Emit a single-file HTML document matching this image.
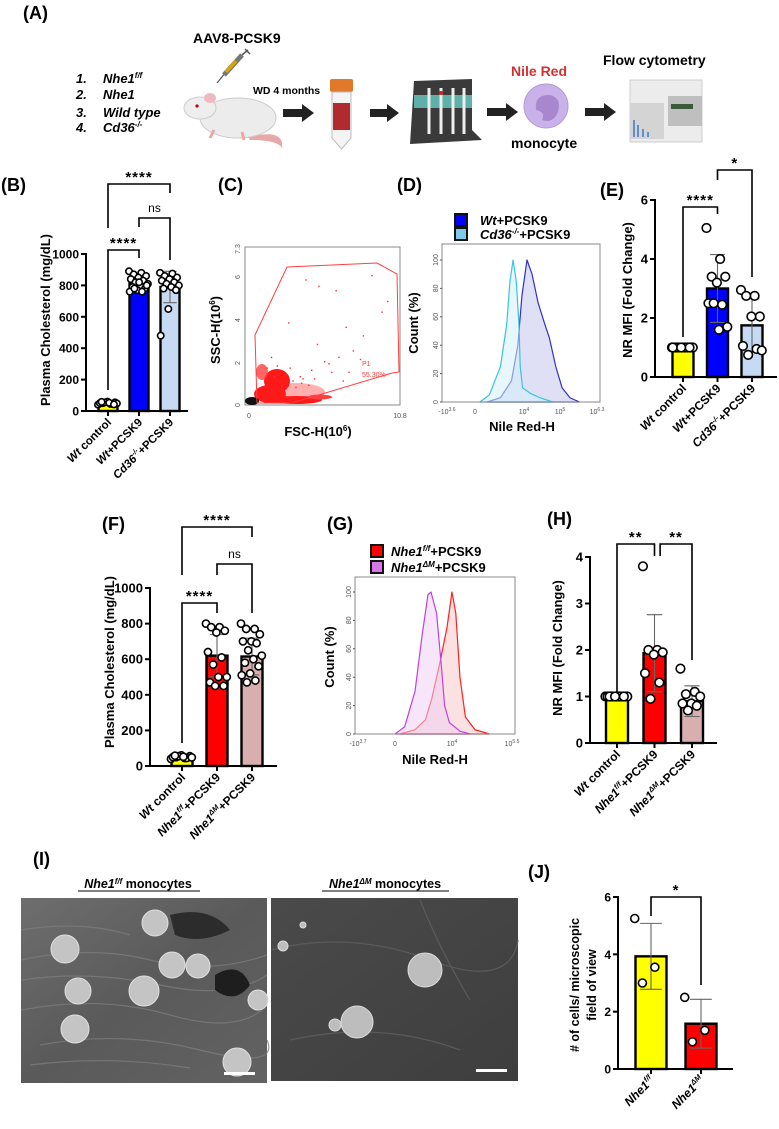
<!DOCTYPE html>
<html><head><meta charset="utf-8"><title>Figure</title>
<style>
html,body{margin:0;padding:0;background:#fff;}
svg{display:block;font-family:"Liberation Sans",Arial,sans-serif;}
.b{font-weight:bold;}
</style></head>
<body>
<svg id="fig" xmlns="http://www.w3.org/2000/svg" width="779" height="1129" viewBox="0 0 779 1129">
<rect width="779" height="1129" fill="#fff"/>
<!-- ===== Panel A ===== -->
<g>
  <text x="23" y="19" class="b" font-size="18">(A)</text>
  <text x="193" y="43" class="b" font-size="14">AAV8-PCSK9</text>
  <g>
    <line x1="217" y1="83" x2="226" y2="72" stroke="#555" stroke-width="1.2"/>
    <line x1="224" y1="75" x2="242" y2="55" stroke="#777" stroke-width="5"/>
    <line x1="226" y1="72" x2="236" y2="61" stroke="#d9a400" stroke-width="3.5"/>
    <line x1="242" y1="55" x2="248" y2="50" stroke="#555" stroke-width="1.5"/>
    <line x1="245" y1="49" x2="250" y2="54" stroke="#555" stroke-width="1.5"/>
  </g>
  <g class="b" font-size="13" font-style="italic">
    <text x="76" y="83">1.</text><text x="103" y="83">Nhe1<tspan dy="-5" font-size="8">f/f</tspan></text>
    <text x="76" y="99">2.</text><text x="103" y="99">Nhe1</text>
    <text x="76" y="117">3.</text><text x="103" y="117">Wild type</text>
    <text x="76" y="132">4.</text><text x="103" y="132">Cd36<tspan dy="-5" font-size="8">-/-</tspan></text>
  </g>
  <g>
    <path d="M248 137 Q285 128 282 148 Q278 140 250 140 Z" fill="#e8a8a8"/>
    <ellipse cx="238" cy="118" rx="38" ry="20" fill="#ececec" stroke="#ccc"/>
    <ellipse cx="200" cy="108" rx="16" ry="11" fill="#eee" stroke="#ccc"/>
    <ellipse cx="210" cy="98" rx="6" ry="5" fill="#f0b8c0"/>
    <circle cx="197" cy="106" r="1.6" fill="#c00"/>
    <path d="M214 130 l-4 8 M242 132 l2 8" stroke="#e8a8a8" stroke-width="3"/>
  </g>
  <text x="253" y="94" class="b" font-size="10.5">WD 4 months</text>
  <g><rect x="283" y="109" width="20" height="8" fill="#222"/><polygon points="302,104 314,113 302,122" fill="#222"/></g>
  <g>
    <rect x="330" y="79" width="23" height="13" rx="2" fill="#e07a2a"/>
    <path d="M332 92 L351 92 L351 138 L341.5 149 L332 138 Z" fill="#f4f4f4" stroke="#bbb"/>
    <rect x="333" y="103" width="17" height="27" fill="#b02a30"/>
  </g>
  <g><rect x="370" y="109" width="18" height="8" fill="#222"/><polygon points="387,104 399,113 387,122" fill="#222"/></g>
  <g>
    <polygon points="414,81 472,79 472,130 482,140 410,144" fill="#3a3a3a"/>
    <rect x="414" y="95" width="58" height="13" fill="#5fb0a8"/>
    <g stroke="#eee" stroke-width="3"><line x1="429" y1="88" x2="429" y2="134"/><line x1="441" y1="88" x2="441" y2="134"/><line x1="453" y1="88" x2="453" y2="134"/><line x1="464" y1="88" x2="464" y2="134"/></g>
    <circle cx="441" cy="93" r="2" fill="#d02020"/>
  </g>
  <g><rect x="487" y="108" width="20" height="8" fill="#222"/><polygon points="506,103 518,112 506,121" fill="#222"/></g>
  <text x="511" y="76" class="b" font-size="14" fill="#d03232">Nile Red</text>
  <g>
    <circle cx="546" cy="106" r="22" fill="#c9b2ea" stroke="#b49ad8"/>
    <path d="M536 110 Q534 94 550 95 Q562 98 558 112 Q553 124 542 120 Q546 112 536 110Z" fill="#a887cf"/>
  </g>
  <text x="511" y="148" class="b" font-size="14">monocyte</text>
  <g><rect x="585" y="108" width="20" height="8" fill="#222"/><polygon points="604,103 616,112 604,121" fill="#222"/></g>
  <text x="603" y="65" class="b" font-size="14">Flow cytometry</text>
  <g>
    <rect x="630" y="80" width="72" height="62" fill="#ececec" stroke="#ccc"/>
    <rect x="630" y="103" width="34" height="36" fill="#d4d4d4"/>
    <rect x="668" y="96" width="34" height="30" fill="#bfbfbf"/>
    <rect x="671" y="104" width="22" height="5" fill="#3a5a3a"/>
    <g stroke="#3a7ad0" stroke-width="1.5"><line x1="634" y1="120" x2="634" y2="137"/><line x1="638" y1="125" x2="638" y2="137"/><line x1="643" y1="129" x2="643" y2="137"/><line x1="648" y1="132" x2="648" y2="137"/></g>
  </g>
</g>

<!-- Panel labels -->
<g class="b" font-size="18">
  <text x="1" y="191">(B)</text>
  <text x="218" y="191">(C)</text>
  <text x="397" y="191">(D)</text>
  <text x="600" y="196">(E)</text>
  <text x="102" y="530">(F)</text>
  <text x="327" y="530">(G)</text>
  <text x="547" y="525">(H)</text>
  <text x="33" y="865">(I)</text>
  <text x="528" y="878">(J)</text>
</g>

<!-- Panel C static -->
<g>
  <rect x="245" y="247" width="155" height="158" fill="none" stroke="#888" stroke-width="1"/>
  <g font-size="7" fill="#555">
    <text transform="translate(240,249) rotate(-90)" text-anchor="middle">7.3</text>
    <text transform="translate(240,277) rotate(-90)" text-anchor="middle">6</text>
    <text transform="translate(240,320) rotate(-90)" text-anchor="middle">4</text>
    <text transform="translate(240,363) rotate(-90)" text-anchor="middle">2</text>
    <text transform="translate(240,405) rotate(-90)" text-anchor="middle">0</text>
    <text x="400" y="418" text-anchor="middle">10.8</text>
    <text x="249" y="418" text-anchor="middle">0</text>
  </g>
  <g>
    <ellipse cx="295" cy="392" rx="30" ry="9" fill="#ff6060" opacity="0.5"/>
    <ellipse cx="277" cy="381" rx="13" ry="12" fill="#ff1a1a"/>
    <ellipse cx="270" cy="394" rx="16" ry="9" fill="#ff1a1a"/>
    <ellipse cx="296" cy="400" rx="26" ry="4" fill="#ff1a1a"/>
    <ellipse cx="320" cy="397" rx="12" ry="2.5" fill="#ff4040"/>
    <ellipse cx="262" cy="372" rx="6" ry="8" fill="#ff4040" opacity="0.8"/>
    <ellipse cx="252" cy="401" rx="7" ry="4" fill="#111"/>
  </g>
  <g id="cDots"></g>
  <polygon points="287,267 377,263 397,274 399,372 392,373 292,403 257,403 255,335" fill="none" stroke="#ff4040" stroke-width="1"/>
  <text x="362" y="366" font-size="7" fill="#ff4040">P1</text>
  <text x="362" y="377" font-size="7" fill="#ff4040">55.30%</text>
  <text x="318" y="436" class="b" font-size="13" text-anchor="middle">FSC-H(10<tspan dy="-5" font-size="8">6</tspan><tspan dy="5">)</tspan></text>
  <text transform="translate(220,330) rotate(-90)" class="b" font-size="13" text-anchor="middle">SSC-H(10<tspan dy="-5" font-size="8">6</tspan><tspan dy="5">)</tspan></text>
</g>

<!-- Panel D -->
<g>
  <rect x="455" y="214" width="12" height="12" fill="#0000ff" stroke="#111" stroke-width="2"/>
  <rect x="455" y="228" width="12" height="12" fill="#7ecbe9" stroke="#111" stroke-width="2"/>
  <text x="480" y="225" class="b" font-size="13"><tspan font-style="italic">Wt</tspan>+PCSK9</text>
  <text x="480" y="239" class="b" font-size="13"><tspan font-style="italic">Cd36</tspan><tspan dy="-5" font-size="8" font-style="italic">-/-</tspan><tspan dy="5">+PCSK9</tspan></text>
  <g id="dHist"></g>
  <rect x="442" y="244" width="158" height="158" fill="none" stroke="#888"/>
  <g font-size="7" fill="#555">
    <text x="447" y="414" text-anchor="middle">-10<tspan dy="-3" font-size="5">3.6</tspan></text>
    <text x="475" y="414" text-anchor="middle">0</text>
    <text x="524" y="414" text-anchor="middle">10<tspan dy="-3" font-size="5">4</tspan></text>
    <text x="560" y="414" text-anchor="middle">10<tspan dy="-3" font-size="5">5</tspan></text>
    <text x="597" y="414" text-anchor="middle">10<tspan dy="-3" font-size="5">6.3</tspan></text>
  </g>
  <g id="dYTicks" font-size="7" fill="#555"></g>
  <text x="522" y="431" class="b" font-size="13" text-anchor="middle">Nile Red-H</text>
  <text transform="translate(418,323) rotate(-90)" class="b" font-size="13" text-anchor="middle">Count (%)</text>
</g>

<!-- Panel G -->
<g>
  <rect x="371" y="545" width="12" height="12" fill="#ff0000" stroke="#111" stroke-width="2"/>
  <rect x="371" y="561" width="12" height="12" fill="#d577e6" stroke="#111" stroke-width="2"/>
  <text x="391" y="556" class="b" font-size="13"><tspan font-style="italic">Nhe1</tspan><tspan dy="-5" font-size="8" font-style="italic">f/f</tspan><tspan dy="5">+PCSK9</tspan></text>
  <text x="391" y="572" class="b" font-size="13"><tspan font-style="italic">Nhe1</tspan><tspan dy="-5" font-size="8" font-style="italic">ΔM</tspan><tspan dy="5">+PCSK9</tspan></text>
  <g id="gHist"></g>
  <rect x="355" y="577" width="160" height="157" fill="none" stroke="#888"/>
  <g font-size="7" fill="#555">
    <text x="358" y="746" text-anchor="middle">-10<tspan dy="-3" font-size="5">3.7</tspan></text>
    <text x="395" y="746" text-anchor="middle">0</text>
    <text x="452" y="746" text-anchor="middle">10<tspan dy="-3" font-size="5">4</tspan></text>
    <text x="512" y="746" text-anchor="middle">10<tspan dy="-3" font-size="5">5.5</tspan></text>
  </g>
  <g id="gYTicks" font-size="7" fill="#555"></g>
  <text x="435" y="764" class="b" font-size="13" text-anchor="middle">Nile Red-H</text>
  <text transform="translate(334,657) rotate(-90)" class="b" font-size="13" text-anchor="middle">Count (%)</text>
</g>

<!-- Panel I photos -->
<g>
  <text x="138" y="888" class="b" font-size="12.5" text-anchor="middle"><tspan font-style="italic">Nhe1</tspan><tspan dy="-4" font-size="8" font-style="italic">f/f</tspan><tspan dy="4"> monocytes</tspan></text>
  <line x1="78" y1="891" x2="200" y2="891" stroke="#000" stroke-width="1"/>
  <text x="385" y="888" class="b" font-size="12.5" text-anchor="middle"><tspan font-style="italic">Nhe1</tspan><tspan dy="-4" font-size="8" font-style="italic">ΔM</tspan><tspan dy="4"> monocytes</tspan></text>
  <line x1="322" y1="891" x2="449" y2="891" stroke="#000" stroke-width="1"/>
  <defs>
    <linearGradient id="g1" x1="0" y1="0" x2="1" y2="1"><stop offset="0" stop-color="#6e6e6e"/><stop offset="0.5" stop-color="#5a5a5a"/><stop offset="1" stop-color="#626262"/></linearGradient>
    <linearGradient id="g2" x1="0" y1="0" x2="1" y2="1"><stop offset="0" stop-color="#4a4a4a"/><stop offset="1" stop-color="#3e3e3e"/></linearGradient>
  </defs>
  <g>
    <rect x="21" y="898" width="246" height="185" fill="url(#g1)"/>
    <g stroke="#7c7c7c" stroke-width="1.2" fill="none" opacity="0.8">
      <path d="M21 960 Q90 945 150 960 T267 955"/><path d="M21 1010 Q100 995 170 1015 T267 1005"/><path d="M40 1045 Q120 1030 200 1050 T267 1040"/><path d="M21 930 Q80 920 130 935"/>
      <path d="M21 980 Q90 970 160 985 T267 975"/><path d="M30 1065 Q110 1055 190 1068"/>
    </g>
    <path d="M215 975 Q240 960 250 985 Q235 1005 215 990Z" fill="#1e1e1e"/>
    <path d="M170 915 Q210 905 230 930 Q200 945 175 935Z" fill="#2c2c2c"/>
    <g fill="#c4c4c4" stroke="#e0e0e0" stroke-width="1">
      <circle cx="155" cy="923" r="13"/><circle cx="65" cy="949" r="14"/><circle cx="172" cy="965" r="13"/><circle cx="198" cy="966" r="12"/>
      <circle cx="144" cy="991" r="15"/><circle cx="78" cy="991" r="13"/><circle cx="75" cy="1029" r="14"/><circle cx="237" cy="1062" r="14"/><circle cx="258" cy="1000" r="10"/>
    </g>
    <rect x="224" y="1072" width="31" height="3" fill="#fff"/>
  </g>
  <g>
    <rect x="271" y="898" width="247" height="183" fill="url(#g2)"/>
    <g stroke="#5a5a5a" stroke-width="1.2" fill="none"><path d="M271 950 Q350 930 430 960 T518 940"/><path d="M290 1040 Q380 1020 460 1050"/><path d="M420 900 Q440 950 470 1000"/></g>
    <g fill="#bdbdbd" stroke="#dcdcdc" stroke-width="1"><circle cx="425" cy="970" r="17"/><circle cx="357" cy="1022" r="16"/><circle cx="335" cy="1025" r="6"/><circle cx="283" cy="946" r="5"/><circle cx="303" cy="925" r="3"/></g>
    <rect x="476" y="1069" width="31" height="3" fill="#fff"/>
  </g>
</g>

<g id="charts"></g>

<script>
// ===== Data =====
// Panel B
const bCats = ["Wt control","Wt+PCSK9","Cd36-/-+PCSK9"];
const bMeans = [52, 812, 790];
const bSD = [10, 40, 100];
const bPtsCtrl = [40,45,50,55,60,50,45,55,48,52,58,42];
const bPtsWt = [890,880,870,860,850,840,830,820,810,800,790,780,770,760,760,780,800,820];
const bPtsCd36 = [880,875,860,850,840,830,820,810,800,790,780,770,650,480];
const bTicks = [0,200,400,600,800,1000];
// Panel E
const eCats = ["Wt control","Wt+PCSK9","Cd36-/-+PCSK9"];
const eMeans = [1.0, 3.0, 1.75];
const eSD = [0.03, 1.15, 0.9];
const ePtsCtrl = [1,1,1,1,1,1,1,1,1,1,1,1,1,1];
const ePtsWt = [5.05,4.0,3.4,3.4,3.2,2.5,2.45,2.5,1.7,1.6];
const ePtsCd36 = [2.95,2.75,2.75,2.05,2.05,1.05,0.95,0.75,0.9];
const eTicks = [0,2,4,6];
// Panel F
const fCats = ["Wt control","Nhe1f/f+PCSK9","Nhe1ΔM+PCSK9"];
const fMeans = [50, 620, 615];
const fSD = [10, 118, 103];
const fPtsCtrl = [40,45,50,55,60,50,45,55,48,52,58];
const fPtsFF = [800,780,780,760,750,640,610,570,500,500,470,450,450];
const fPtsDM = [800,770,770,740,700,700,690,650,620,600,580,560,520,510,480,470];
const fTicks = [0,200,400,600,800,1000];
// Panel H
const hCats = ["Wt control","Nhe1f/f+PCSK9","Nhe1ΔM+PCSK9"];
const hMeans = [1.0, 1.93, 0.9];
const hSD = [0.03, 0.83, 0.33];
const hPtsCtrl = [1,1,1,1,1,1,1,1,1,1,1,1,1];
const hPtsFF = [3.8,2.0,2.0,1.95,1.9,1.5,1.3,0.95];
const hPtsDM = [1.6,1.1,1.05,1.0,0.85,0.85,0.8,0.7];
const hTicks = [0,1,2,3,4];
// Panel J
const jCats = ["Nhe1f/f","Nhe1ΔM"];
const jMeans = [3.93, 1.58];
const jSD = [1.15, 0.85];
const jPtsFF = [5.25,3.55,3.0];
const jPtsDM = [2.5,1.35,0.95];
const jTicks = [0,2,4,6];
// Histograms: x in axis percent (0..100), y = count %
const dCyanX = [24,30,37,41,43,45,47,48.7,49.5,51,56,62,70];
const dCyanY = [0,5,25,55,85,100,85,55,25,10,6,3,0];
const dBlueX = [28.5,37,44,48,50.6,53.8,57,60.8,65,68,72,76,81,87];
const dBlueY = [0,3,15,40,75,100,90,70,55,45,25,10,3,0];
const gPurpX = [25,31,37.5,42,45.6,47.5,51,53.8,56,59,65.6,72];
const gPurpY = [0,5,30,70,98,100,85,50,20,8,2,0];
const gRedX = [28,37.5,44,48,53,57.5,60.6,63,65.6,69,75,84];
const gRedY = [0,3,10,25,50,75,100,85,40,12,3,0];
const histTicks = [0,20,40,60,80,100];
// Panel C sparse events (FSC, SSC in 10^6)
const cFsc = [4.2,5.1,6.3,7.0,8.2,8.8,3.0,4.0,5.5,6.0,7.5,2.5,3.5,9.5,9.9,6.8,5.0,4.6,2.2,2.8,3.3,3.8,4.4,1.8,2.0,3.1,5.8,6.5,7.2,8.0,1.5,2.6,3.9,4.8];
const cSsc = [5.8,5.5,5.3,3.6,3.2,6.0,3.8,1.2,2.0,1.5,2.5,0.9,0.8,4.3,4.8,1.1,2.8,1.6,1.8,1.4,1.1,1.3,0.9,2.2,1.3,1.7,1.9,2.2,1.5,2.1,1.7,0.7,1.0,1.2];

const NS = "http://www.w3.org/2000/svg";
function mk(tag, attrs, parent){
  const e = document.createElementNS(NS, tag);
  for (const k in attrs) e.setAttribute(k, attrs[k]);
  parent.appendChild(e);
  return e;
}
const charts = document.getElementById('charts');

function catLabel(parent, x, y, name, fs){
  const t = mk('text', {transform:`translate(${x},${y}) rotate(-45)`, 'text-anchor':'end', 'font-size':fs, 'font-weight':'bold'}, parent);
  
  
  let ital, rest, sup = null;
  if (name === "Wt control"){ ital="Wt"; rest=" control"; }
  else if (name === "Wt+PCSK9"){ ital="Wt"; rest="+PCSK9"; }
  else if (name.startsWith("Cd36")){ ital="Cd36"; sup="-/-"; rest="+PCSK9"; }
  else if (name.startsWith("Nhe1f/f")){ ital="Nhe1"; sup="f/f"; rest=name.slice(7); }
  else { ital="Nhe1"; sup="ΔM"; rest=name.slice(6); }
  const a = mk('tspan', {'font-style':'italic'}, t); a.textContent = ital;
  if (sup){ const s = mk('tspan', {dy:-5, 'font-size':fs*0.62, 'font-style':'italic'}, t); s.textContent = sup; }
  const r = mk('tspan', sup ? {dy:5} : {}, t); r.textContent = rest;
}

function barPanel(cfg, cats, means, sds, pts, ticks){
  const g = mk('g', {}, charts);
  
  
  const y = v => cfg.y0 - v * (cfg.y0 - cfg.yTop) / cfg.vmax;
  const x = i => cfg.ax + cfg.off + i * cfg.step;
  cats.forEach((c, i) => {
    const bar = mk('rect', {x:x(i)-cfg.bw/2, y:y(means[i]), width:cfg.bw, height:cfg.y0-y(means[i]), fill:cfg.colors[i], stroke:'#000', 'stroke-width':2.4}, g);
    
    
    const eb = mk('path', {d:`M${x(i)} ${y(means[i]-sds[i])} V${y(means[i]+sds[i])} M${x(i)-cfg.bw*0.35} ${y(means[i]+sds[i])} h${cfg.bw*0.7} M${x(i)-cfg.bw*0.35} ${y(means[i]-sds[i])} h${cfg.bw*0.7}`, stroke:'#666', 'stroke-width':1.1, fill:'none'}, g);
    
    
    pts[i].forEach((v, k) => {
      const jit = (((k * 0.618) % 1) - 0.5) * cfg.bw * 1.05;
      const p = mk('circle', {cx:x(i)+jit, cy:y(v), r:cfg.pr, fill:'#fff', stroke:'#000', 'stroke-width':1.6}, g);
      
      
    });
    catLabel(g, x(i)+4, cfg.y0+12, c, cfg.lfs);
    const tk = mk('line', {x1:x(i), x2:x(i), y1:cfg.y0, y2:cfg.y0+5, stroke:'#000', 'stroke-width':2}, g);
    
    
  });
  const ya = mk('line', {x1:cfg.ax, x2:cfg.ax, y1:cfg.yTop-1, y2:cfg.y0, stroke:'#000', 'stroke-width':2}, g);
  
  
  const xa = mk('line', {x1:cfg.ax-1, x2:cfg.xEnd, y1:cfg.y0, y2:cfg.y0, stroke:'#000', 'stroke-width':2}, g);
  
  
  ticks.forEach(t => {
    const l = mk('line', {x1:cfg.ax-5, x2:cfg.ax, y1:y(t), y2:y(t), stroke:'#000', 'stroke-width':2}, g);
    
    
    const tx = mk('text', {x:cfg.ax-7, y:y(t)+4.5, 'text-anchor':'end', 'font-size':cfg.tfs, 'font-weight':'bold'}, g);
    
    
    tx.textContent = t;
  });
  cfg.title.forEach((line, k) => {
    const tt = mk('text', {transform:`translate(${cfg.tx + k*17},${cfg.ty}) rotate(-90)`, 'text-anchor':'middle', 'font-size':cfg.ttfs, 'font-weight':'bold'}, g);
    
    
    tt.textContent = line;
  });
  cfg.brackets.forEach(b => {
    const br = mk('path', {d:`M${x(b.a)} ${b.ya} V${b.top} H${x(b.b)} V${b.yb}`, stroke:'#000', 'stroke-width':1.6, fill:'none'}, g);
    
    
    const st = mk('text', {x:(x(b.a)+x(b.b))/2, y:b.top-(b.label==='ns'?6:2), 'text-anchor':'middle', 'font-size':b.label==='ns'?12:15, 'font-weight':b.label==='ns'?'normal':'bold', 'letter-spacing':b.label==='ns'?0:1}, g);
    
    
    st.textContent = b.label;
  });
}

barPanel({name:'panel-b-chart', ax:86, off:22, step:31, y0:411, yTop:254, vmax:1000, bw:19, pr:3.2, xEnd:188,
  colors:['#ffff00','#0000ff','#c6daf3'], tfs:12, lfs:11.5, ttfs:13, tx:50, ty:320, title:['Plasma Cholesterol (mg/dL)'],
  brackets:[{a:0,b:2,top:184,ya:228,yb:193,label:'****'},{a:1,b:2,top:218,ya:227,yb:260,label:'ns'},{a:0,b:1,top:250,ya:390,yb:258,label:'****'}]},
  bCats, bMeans, bSD, [bPtsCtrl, bPtsWt, bPtsCd36], bTicks);

barPanel({name:'panel-e-chart', ax:655, off:28, step:34.5, y0:377, yTop:200, vmax:6, bw:21, pr:4.3, xEnd:777,
  colors:['#ffff00','#0000ff','#c6daf3'], tfs:13, lfs:12, ttfs:13, tx:632, ty:290, title:['NR MFI (Fold Change)'],
  brackets:[{a:0,b:1,top:207,ya:337,yb:214,label:'****'},{a:1,b:2,top:170,ya:180,yb:277,label:'*'}]},
  eCats, eMeans, eSD, [ePtsCtrl, ePtsWt, ePtsCd36], eTicks);

barPanel({name:'panel-f-chart', ax:150, off:32, step:35, y0:766, yTop:588, vmax:1000, bw:21, pr:3.6, xEnd:277,
  colors:['#ffff00','#ff0000','#d8aeae'], tfs:13, lfs:12, ttfs:13, tx:114, ty:662, title:['Plasma Cholesterol (mg/dL)'],
  brackets:[{a:0,b:2,top:527,ya:575,yb:537,label:'****'},{a:1,b:2,top:564,ya:575,yb:613,label:'ns'},{a:0,b:1,top:603,ya:743,yb:613,label:'****'}]},
  fCats, fMeans, fSD, [fPtsCtrl, fPtsFF, fPtsDM], fTicks);

barPanel({name:'panel-h-chart', ax:590, off:27, step:37.5, y0:743, yTop:557, vmax:4, bw:22, pr:4.3, xEnd:717,
  colors:['#ffff00','#ff0000','#d8aeae'], tfs:13, lfs:12, ttfs:13, tx:562, ty:648, title:['NR MFI (Fold Change)'],
  brackets:[{a:0,b:1,top:544,ya:692,yb:556,label:'**'},{a:1.15,b:2,top:544,ya:556,yb:660,label:'**'}]},
  hCats, hMeans, hSD, [hPtsCtrl, hPtsFF, hPtsDM], hTicks);

barPanel({name:'panel-j-chart', ax:618, off:33, step:50, y0:1069, yTop:897, vmax:6, bw:31, pr:4, xEnd:733,
  colors:['#ffff00','#ff0000'], tfs:12, lfs:12, ttfs:12.5, tx:579, ty:985, title:['# of cells/ microscopic','field of view'],
  brackets:[{a:0,b:1,top:897,ya:916,yb:985,label:'*'}]},
  jCats, jMeans, jSD, [jPtsFF, jPtsDM], jTicks);

// Histograms
function hist(gid, box, xs, ys, stroke, fill, name){
  const g = document.getElementById(gid);
  const sx = v => box.x0 + v/100 * (box.x1 - box.x0);
  const sy = v => box.y0 - v/100 * (box.y0 - box.y100);
  let d = `M${sx(xs[0])} ${box.y0}`;
  xs.forEach((v,i) => { d += ` L${sx(v)} ${sy(ys[i])}`; });
  d += ` L${sx(xs[xs.length-1])} ${box.y0} Z`;
  const p = mk('path', {d:d, fill:fill, 'fill-opacity':0.55, stroke:stroke, 'stroke-width':1.2, 'stroke-linejoin':'round'}, g);
  
  
}
function yTicks(gid, box){
  const g = document.getElementById(gid);
  histTicks.forEach(t => {
    const yy = box.y0 - t/100*(box.y0-box.y100);
    const tx = mk('text', {transform:`translate(${box.x0-4},${yy}) rotate(-90)`, 'text-anchor':'middle'}, g);
    
    
    tx.textContent = t;
    const tk = mk('line', {x1:box.x0-2, x2:box.x0, y1:yy, y2:yy, stroke:'#555'}, g);
    
    
  });
}
const dBox = {x0:442, x1:600, y0:402, y100:260};
const gBox = {x0:355, x1:515, y0:734, y100:592};
hist('dHist', dBox, dBlueX, dBlueY, '#3030c8', '#c4c4ee', 'histogram-wt');
hist('dHist', dBox, dCyanX, dCyanY, '#38c4e0', '#d4f0f8', 'histogram-cd36');
hist('gHist', gBox, gRedX, gRedY, '#ff2020', '#f8c8c8', 'histogram-nhe1-ff');
hist('gHist', gBox, gPurpX, gPurpY, '#c040e0', '#f0d0f4', 'histogram-nhe1-dm');
yTicks('dYTicks', dBox);
yTicks('gYTicks', gBox);

// Panel C sparse dots
const cg = document.getElementById('cDots');
cFsc.forEach((f, i) => {
  const d = mk('rect', {x:245 + f/10.8*155, y:404 - cSsc[i]/7.3*157, width:1.4, height:1.4, fill:'#ff3030'}, cg);
  
  
});
</script>
</svg>
</body></html>
